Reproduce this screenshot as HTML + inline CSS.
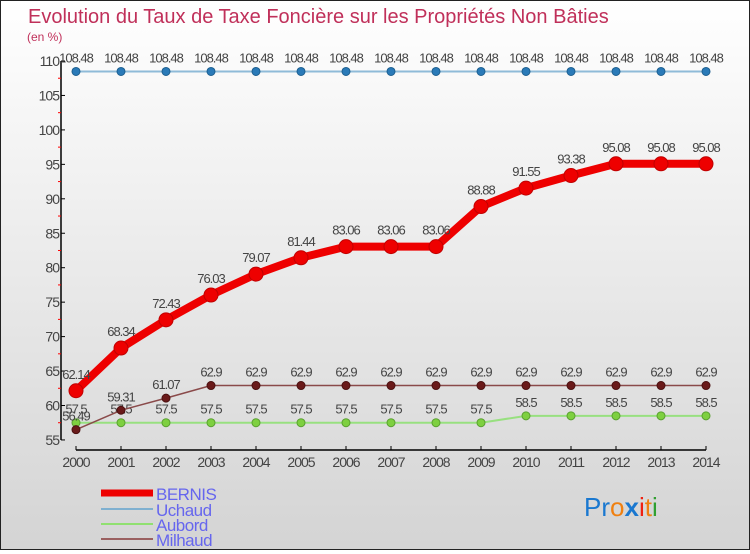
<!DOCTYPE html>
<html><head><meta charset="utf-8"><style>
html,body{margin:0;padding:0}
body{width:750px;height:550px;overflow:hidden;font-family:"Liberation Sans",sans-serif}
#wrap{position:relative;width:748px;height:548px;border:1px solid #222;background:linear-gradient(#ffffff,#d4d4d4)}
svg text{font-family:"Liberation Sans",sans-serif}
</style></head><body>
<div id="wrap">
<svg id="chart" width="748" height="548">
<text x="27" y="22" font-size="20" fill="#c0305a">Evolution du Taux de Taxe Foncière sur les Propriétés Non Bâties</text>
<text x="26" y="40" font-size="12" fill="#c0305a">(en %)</text>
<g id="axes"></g>
<g id="series"></g>
<g>
<line x1="100" y1="492" x2="152" y2="492" stroke="#ee0000" stroke-width="7"/>
<text x="155" y="499" font-size="17" fill="#6666ee" letter-spacing="-0.5">BERNIS</text>
<line x1="100" y1="508" x2="152" y2="508" stroke="#7fb0d0" stroke-width="2"/>
<text x="155" y="515" font-size="17" fill="#6666ee" letter-spacing="-0.5">Uchaud</text>
<line x1="100" y1="523" x2="152" y2="523" stroke="#90e070" stroke-width="2"/>
<text x="155" y="530" font-size="17" fill="#6666ee" letter-spacing="-0.5">Aubord</text>
<line x1="100" y1="538" x2="152" y2="538" stroke="#9a6060" stroke-width="2"/>
<text x="155" y="545" font-size="17" fill="#6666ee" letter-spacing="-0.5">Milhaud</text>
</g>
<g font-size="26">
<text x="583" y="515"><tspan fill="#1a78d0">Pr</tspan><tspan fill="#f08010">o</tspan><tspan fill="#1a78d0" font-weight="bold">x</tspan><tspan fill="#f02010">i</tspan><tspan fill="#f08010">t</tspan><tspan fill="#30a030">i</tspan></text>
</g>
</svg>
</div>
<script>
const years=[2000,2001,2002,2003,2004,2005,2006,2007,2008,2009,2010,2011,2012,2013,2014];
const yTicks=[55,60,65,70,75,80,85,90,95,100,105,110];
const bernis=[62.14,68.34,72.43,76.03,79.07,81.44,83.06,83.06,83.06,88.88,91.55,93.38,95.08,95.08,95.08];
const uchaud=[108.48,108.48,108.48,108.48,108.48,108.48,108.48,108.48,108.48,108.48,108.48,108.48,108.48,108.48,108.48];
const aubord=[57.5,57.5,57.5,57.5,57.5,57.5,57.5,57.5,57.5,57.5,58.5,58.5,58.5,58.5,58.5];
const milhaud=[56.49,59.31,61.07,62.9,62.9,62.9,62.9,62.9,62.9,62.9,62.9,62.9,62.9,62.9,62.9];
const NS='http://www.w3.org/2000/svg';
const xs=i=>75+i*45;
const ys=v=>60+(110-v)*6.89;
function mk(tag,attrs,parent){const e=document.createElementNS(NS,tag);for(const k in attrs)e.setAttribute(k,attrs[k]);parent.appendChild(e);return e;}
const axes=document.getElementById('axes');
const ax=mk('line',{x1:60,y1:ys(110),x2:60,y2:ys(55),stroke:'#000','stroke-width':1.5},axes);


const xa=mk('line',{x1:xs(0),y1:449,x2:xs(14),y2:449,stroke:'#000','stroke-width':1.5},axes);


yTicks.forEach(t=>{
  mk('line',{x1:60,y1:ys(t),x2:64,y2:ys(t),stroke:'#000'},axes);
  if(t<110){mk('line',{x1:57,y1:ys(t+2.5),x2:60,y2:ys(t+2.5),stroke:'#f00'},axes);}
  const tx=mk('text',{x:58,y:ys(t)+5,'font-size':14,'text-anchor':'end',fill:'#444','letter-spacing':'-1'},axes);
  tx.textContent=t;
  
  
});
years.forEach((y,i)=>{
  mk('line',{x1:xs(i),y1:445,x2:xs(i),y2:449,stroke:'#000'},axes);
  const tx=mk('text',{x:xs(i),y:466,'font-size':14,'text-anchor':'middle',fill:'#444','letter-spacing':'-1'},axes);
  tx.textContent=y;
  
  
});
const sg=document.getElementById('series');
function series(name,data,color,w,r,dot,stroke){
  const g=mk('g',{},sg);
  
  
  const p=mk('polyline',{points:data.map((v,i)=>xs(i)+','+ys(v)).join(' '),fill:'none',stroke:color,'stroke-width':w,'stroke-linejoin':'round'},g);
  
  
  data.forEach((v,i)=>{
    const c=mk('circle',{cx:xs(i),cy:ys(v),r:r,fill:dot,stroke:stroke,'stroke-width':1},g);
    
    
    const t=mk('text',{x:xs(i),y:ys(v)-(r+5),'font-size':13,'text-anchor':'middle',fill:'#444','letter-spacing':'-1'},g);
    t.textContent=String(v);
    
    
  });
}
series('uchaud',uchaud,'#8fbbd8',2,4,'#2a7ab8','#1d5f90');
series('aubord',aubord,'#98e080',2,4,'#7ed040','#5aa030');
series('milhaud',milhaud,'#8a4a4a',1.5,4,'#6a1a1a','#4a1010');
series('bernis',bernis,'#ee0000',8,7,'#ee0000','#c00000');
</script>
</body></html>
